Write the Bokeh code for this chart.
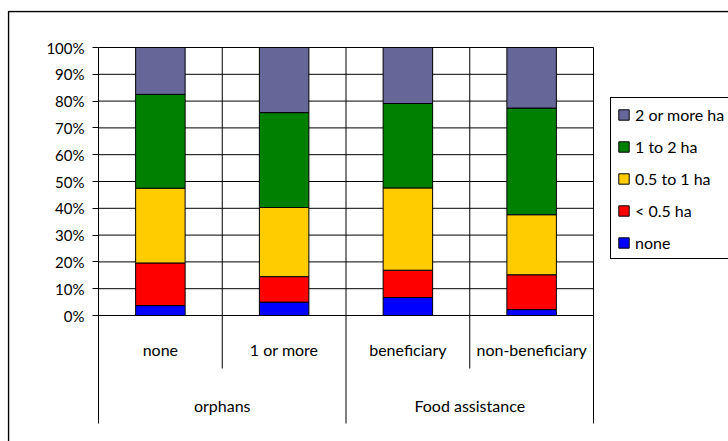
from bokeh.plotting import figure
from bokeh.models import (Range1d, FixedTicker, PrintfTickFormatter, LinearAxis,
                          Legend, LegendItem, BoxAnnotation, ColumnDataSource)
from bokeh.embed import file_html
from bokeh.resources import INLINE

# ---- data -------------------------------------------------------------
groups = ["orphans", "Food assistance"]
categories = ["none", "1 or more", "beneficiary", "non-beneficiary"]
category_group = [0, 0, 1, 1]

series = ["none", "< 0.5 ha", "0.5 to 1 ha", "1 to 2 ha", "2 or more ha"]
colors = ["#0000FF", "#FF0000", "#FFCC00", "#008000", "#666699"]

# share of households (%) by land holding, per category
share_none = [3.7, 5.0, 6.7, 2.2]
share_lt_half = [15.9, 9.5, 10.2, 13.0]
share_half_to_one = [27.9, 25.8, 30.7, 22.4]
share_one_to_two = [35.0, 35.4, 31.5, 39.8]
share_two_plus = [17.5, 24.3, 20.9, 22.6]

y_ticks = [0, 10, 20, 30, 40, 50, 60, 70, 80, 90, 100]

# ---- layout (pixels) ----------------------------------------------------
W, H = 728, 441
FRAME_L, FRAME_T = 7, 10            # frame covers the whole chart box
PLOT_L, PLOT_R = 98, 593            # plot area inside the chart box
PLOT_T, PLOT_B = 47, 315
SUB_BAND, GROUP_BAND = 53, 108      # depth of the two label bands below 0%

n = len(categories)
px_x = (PLOT_R - PLOT_L) / n
px_y = (PLOT_B - PLOT_T) / 100.0
x_start = -(PLOT_L - FRAME_L) / px_x
x_end = n + (W - PLOT_R) / px_x
y_end = 100 + (PLOT_T - FRAME_T) / px_y
y_start = -(H - PLOT_B) / px_y
y_low = -GROUP_BAND / px_y
y_inner = -SUB_BAND / px_y

# ---- derived positions --------------------------------------------------
xpos = [i + 0.5 for i in range(n)]
group_centers = []
for g in range(len(groups)):
    members = [xpos[i] for i in range(n) if category_group[i] == g]
    group_centers.append(sum(members) / len(members))

group_edges = [0.0]
inner_edges = []
for i in range(1, n):
    if category_group[i] != category_group[i - 1]:
        group_edges.append(float(i))
    else:
        inner_edges.append(float(i))
group_edges.append(float(n))

FONT = "Lato"

source = ColumnDataSource(dict(
    x=xpos,
    **{s: v for s, v in zip(series, [share_none, share_lt_half, share_half_to_one,
                                     share_one_to_two, share_two_plus])}
))

p = figure(width=W, height=H, output_backend="svg", toolbar_location=None,
           x_range=Range1d(x_start, x_end), y_range=Range1d(y_start, y_end),
           x_axis_type=None, y_axis_type=None,
           min_border_left=FRAME_L, min_border_right=0,
           min_border_top=FRAME_T, min_border_bottom=0)
p.outline_line_color = None
p.background_fill_color = "white"
p.border_fill_color = "white"
p.grid.visible = False

# horizontal gridlines across the plot area
p.segment(x0=[0] * len(y_ticks), x1=[n] * len(y_ticks), y0=y_ticks, y1=y_ticks,
          line_color="black", line_width=1)

# vertical separators (between groups they run through both label bands)
seg_x = group_edges + inner_edges
seg_y1 = [y_low] * len(group_edges) + [y_inner] * len(inner_edges)
p.segment(x0=seg_x, y0=[100] * len(seg_x), x1=seg_x, y1=seg_y1,
          line_color="black", line_width=1)

# stacked bars
bars = p.vbar_stack(series, x="x", width=0.4, source=source, color=colors,
                    line_color="black", line_width=1)

# y axis pinned to the left edge of the plot area
yax = LinearAxis(fixed_location=0, ticker=FixedTicker(ticks=y_ticks),
                 formatter=PrintfTickFormatter(format="%d%%"),
                 axis_line_color=None, major_tick_out=6, major_tick_in=0,
                 minor_tick_line_color=None, major_tick_line_color="black",
                 major_label_standoff=8, major_label_text_font=FONT,
                 major_label_text_font_size="15px", major_label_text_color="black")
p.add_layout(yax, "left")

# category labels and group labels, hung from the 0% line
def label_axis(ticks, labels, standoff):
    ax = LinearAxis(fixed_location=0,
                    ticker=FixedTicker(ticks=ticks),
                    major_label_overrides={t: l for t, l in zip(ticks, labels)},
                    axis_line_color=None, major_tick_line_color=None,
                    minor_tick_line_color=None,
                    major_label_standoff=standoff,
                    major_label_text_font=FONT,
                    major_label_text_font_size="16px",
                    major_label_text_color="black")
    p.add_layout(ax, "below")
    return ax

label_axis(xpos, categories, 18)
label_axis(group_centers, groups, 74)

# legend, largest holding first
items = [LegendItem(label=s, renderers=[r]) for s, r in zip(series, bars)][::-1]
legend = Legend(items=items, location=(610 - FRAME_L, H - 259),
                border_line_color="black", border_line_width=1,
                border_line_alpha=1,
                background_fill_color="white", background_fill_alpha=1,
                padding=6, spacing=12, label_standoff=5,
                glyph_width=13, glyph_height=13, label_height=20,
                label_text_font=FONT, label_text_font_size="16px",
                label_text_color="black")
p.add_layout(legend)

# chart box: only its top and left edges fall inside the page
p.add_layout(BoxAnnotation(left=8, right=W + 50, top=11, bottom=H + 50,
                           left_units="canvas", right_units="canvas",
                           top_units="canvas", bottom_units="canvas",
                           fill_alpha=0, line_color="black", line_alpha=1,
                           line_width=1.5))

open("out.html", "w").write(file_html(p, INLINE))
